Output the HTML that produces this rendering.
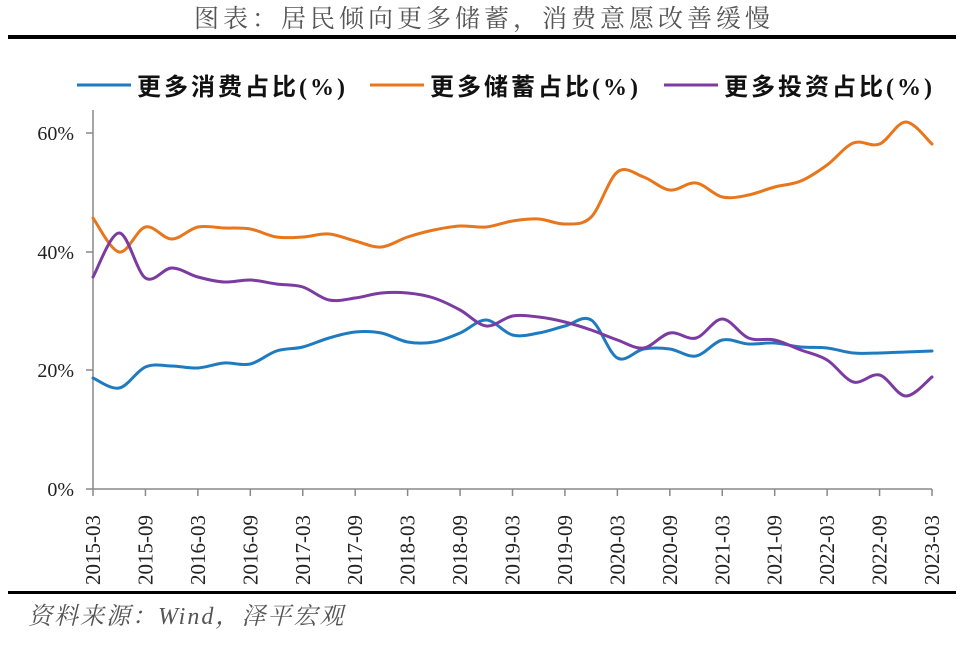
<!DOCTYPE html>
<html><head><meta charset="utf-8"><style>
html,body{margin:0;padding:0;background:#fff;}
svg{display:block;}
</style></head><body>
<svg id="s" width="960" height="645" xmlns="http://www.w3.org/2000/svg">
<text x="484" y="27" text-anchor="middle" font-family="'Liberation Serif','Noto Serif CJK SC',serif" font-size="25" fill="#555" letter-spacing="4">图表：居民倾向更多储蓄，消费意愿改善缓慢</text>
<rect x="8" y="35" width="948" height="4" fill="#000"/>
<g font-family="'Liberation Serif','Noto Sans CJK SC',serif" font-size="24" font-weight="bold" fill="#111">
<line x1="77" y1="85" x2="131" y2="85" stroke="#1f7bc0" stroke-width="3"/>
<text x="137" y="95" letter-spacing="3">更多消费占比(%)</text>
<line x1="370" y1="85" x2="424" y2="85" stroke="#e8761c" stroke-width="3"/>
<text x="430" y="95" letter-spacing="3">更多储蓄占比(%)</text>
<line x1="664" y1="85" x2="718" y2="85" stroke="#7b3ba0" stroke-width="3"/>
<text x="724" y="95" letter-spacing="3">更多投资占比(%)</text>
</g>
<g stroke="#888" stroke-width="1.5">
<line x1="93" y1="110" x2="93" y2="489"/>
<line x1="93" y1="489" x2="932" y2="489"/>
<line x1="86" y1="133" x2="93" y2="133"/>
<line x1="86" y1="252" x2="93" y2="252"/>
<line x1="86" y1="370" x2="93" y2="370"/>
<line x1="86" y1="489" x2="93" y2="489"/>
</g>
<g id="xt" stroke="#888" stroke-width="1.5"></g>
<g font-family="'Liberation Serif',serif" font-size="20" fill="#222" text-anchor="end">
<text x="74" y="140">60%</text>
<text x="74" y="259">40%</text>
<text x="74" y="377">20%</text>
<text x="74" y="496">0%</text>
</g>
<g id="xl" font-family="'Liberation Serif',serif" font-size="21" fill="#222"></g>
<g id="lines" fill="none" stroke-width="3" stroke-linejoin="round" stroke-linecap="round"></g>
<rect x="8" y="591" width="948" height="3" fill="#000"/>
<text x="28" y="624" font-family="'Liberation Serif','Noto Serif CJK SC',serif" font-size="24" font-style="italic" fill="#555" letter-spacing="2">资料来源：Wind，泽平宏观</text>
</svg>
<script>
var NS="http://www.w3.org/2000/svg";
function X(i){return 93+839*i/32;}
var o=[218,252,227,239,227,228,229,237,237,234,241,247,237,230,226,227,221,219,224,217,172,177,190,183,197,195,187,181,165,143,144,122,144];
var p=[277,233,278,268,277,282,280,284,287,300,298,293,293,298,310,326,316,317,322,330,340,348,333,338,319,338,340,350,360,382,375,396,377];
var b=[378,388,367,366,368,363,364,351,347,338,332,333,342,342,333,320,335,333,326,320,358,349,349,356,340,344,343,347,348,353,353,352,351];
function path(a){var pts=a.map(function(y,i){return [X(i),y];});var d="M"+pts[0][0]+","+pts[0][1];
for(var i=0;i<pts.length-1;i++){var p0=pts[Math.max(0,i-1)],p1=pts[i],p2=pts[i+1],p3=pts[Math.min(pts.length-1,i+2)];
var c1x=p1[0]+(p2[0]-p0[0])/6,c1y=p1[1]+(p2[1]-p0[1])/6,c2x=p2[0]-(p3[0]-p1[0])/6,c2y=p2[1]-(p3[1]-p1[1])/6;
d+=" C"+c1x.toFixed(1)+","+c1y.toFixed(1)+" "+c2x.toFixed(1)+","+c2y.toFixed(1)+" "+p2[0].toFixed(1)+","+p2[1];}return d;}
var g=document.getElementById("lines");
[[b,"#1f7bc0"],[o,"#e8761c"],[p,"#7b3ba0"]].forEach(function(s){var e=document.createElementNS(NS,"path");e.setAttribute("d",path(s[0]));e.setAttribute("stroke",s[1]);g.appendChild(e);});
var xt=document.getElementById("xt"),xl=document.getElementById("xl");
for(var k=0;k<=16;k++){var x=X(2*k);var l=document.createElementNS(NS,"line");l.setAttribute("x1",x);l.setAttribute("x2",x);l.setAttribute("y1",489);l.setAttribute("y2",496);xt.appendChild(l);
var yr=2015+Math.floor(k/2),m=k%2?"09":"03";var t=document.createElementNS(NS,"text");t.setAttribute("transform","translate("+(x+7)+",585) rotate(-90)");t.textContent=yr+"-"+m;xl.appendChild(t);}
</script>
</body></html>
